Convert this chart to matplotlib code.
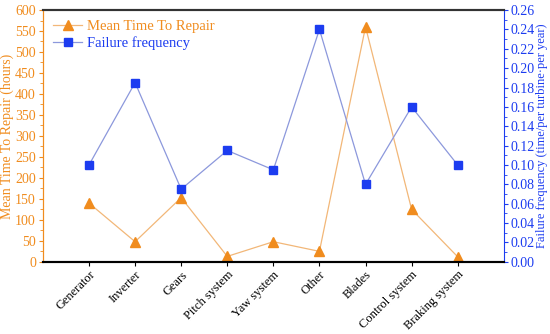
import matplotlib.pyplot as plt
from matplotlib.ticker import MultipleLocator

plt.rcParams['font.family'] = ['Liberation Serif', 'DejaVu Serif']

categories = ['Generator', 'Inverter', 'Gears', 'Pitch system', 'Yaw system',
              'Other', 'Blades', 'Control system', 'Braking system']
mttr = [140, 48, 153, 13, 48, 25, 560, 125, 12]
freq = [0.10, 0.185, 0.075, 0.115, 0.095, 0.24, 0.08, 0.16, 0.10]

orange = '#f08c1e'
orange_line = '#f2b778'
blue = '#1c3cf0'
blue_line = '#8c98dc'

fig = plt.figure(figsize=(5.5, 3.34), dpi=100)
ax = fig.add_axes([0.078, 0.216, 0.838, 0.754])
ax2 = ax.twinx()

x = list(range(len(categories)))
l1, = ax.plot(x, mttr, color=orange_line, lw=0.9, marker='^', ms=7.5,
              mfc=orange, mec=orange, label='Mean Time To Repair')
l2, = ax2.plot(x, freq, color=blue_line, lw=0.9, marker='s', ms=5.5,
               mfc=blue, mec=blue, label='Failure frequency')

ax.set_xlim(-1, 9)
ax.set_ylim(0, 600)
ax2.set_ylim(0, 0.26)
ax.yaxis.set_major_locator(MultipleLocator(50))
ax.yaxis.set_minor_locator(MultipleLocator(25))
ax2.yaxis.set_major_locator(MultipleLocator(0.02))
ax2.yaxis.set_minor_locator(MultipleLocator(0.01))
ax2.yaxis.set_major_formatter(lambda v, p: f'{v:.2f}')

ax.set_xticks(x)
ax.set_xticklabels(categories, rotation=45, ha='right', rotation_mode='anchor',
                   fontsize=9)

for a in (ax, ax2):
    a.spines['top'].set_color('#333333')
    a.spines['top'].set_linewidth(1.5)
    a.spines['bottom'].set_color('black')
    a.spines['bottom'].set_linewidth(1.5)
ax.spines['left'].set_color(orange)
ax2.spines['left'].set_color(orange)
ax2.spines['right'].set_color(blue)
ax.spines['right'].set_visible(False)

ax.tick_params(axis='y', colors=orange, labelsize=10, length=3, width=0.8, pad=2)
ax.tick_params(axis='y', which='minor', colors=orange, length=2)
ax2.tick_params(axis='y', colors=blue, labelsize=10, length=3, width=0.8, pad=2)
ax2.tick_params(axis='y', which='minor', colors=blue, length=2)
ax.tick_params(axis='x', length=3, width=0.8, pad=2)

ax.set_ylabel('Mean Time To Repair (hours)', color=orange, fontsize=10, labelpad=1)
ax2.set_ylabel('Failure frequency (time/per turbine·per year)', color=blue,
               fontsize=9, labelpad=1)

leg = ax.legend(handles=[l1, l2], loc='upper left', frameon=False, fontsize=10.5,
                handlelength=2.0, handletextpad=0.3, borderaxespad=0.3,
                labelspacing=0.2)
leg.get_texts()[0].set_color(orange)
leg.get_texts()[1].set_color(blue)

fig.savefig('out.png', dpi=100)
